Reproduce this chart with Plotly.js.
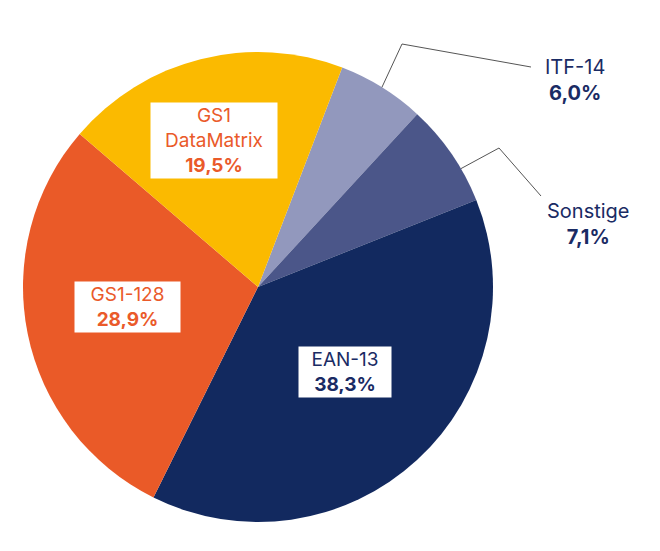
<!DOCTYPE html>
<html>
<head>
<meta charset="utf-8">
<script src="https://cdn.plot.ly/plotly-3.0.1.min.js"></script>
<style>
    html, body { margin: 0; padding: 0; background: #ffffff; }
    #chart { width: 660px; height: 551px; }
</style>
</head>
<body>
<div id="chart"></div>
<script>
// data, clockwise from the ITF-14 slice
const labels = ['ITF-14', 'Sonstige', 'EAN-13', 'GS1-128', 'GS1<br>DataMatrix'];
const values = [6.0, 7.1, 38.3, 28.9, 19.5];
const pctText = ['6,0%', '7,1%', '38,3%', '28,9%', '19,5%'];

const NAVY = '#1a2b64';
const ORANGE = '#ea5a2a';
const sliceColors = ['#9298bd', '#4b5689', '#12295f', '#ea5a28', '#fbba00'];
const textColors = [NAVY, NAVY, NAVY, ORANGE, ORANGE];

const W = 660, H = 551;
const CX = 258, CY = 287, R = 235;   // pie centre / radius in px
const ROTATION = 21;                 // degrees, start of first slice

// label placement per slice (angle offset in deg, radius fraction)
const labelStyle = [
    { outside: true, dA: 0,   leader: [[402, 44], [531, 67]], text: [575, 80] },
    { outside: true, dA: 4.3, leader: [[499, 148], [541, 196]], text: [588, 224] },
    { outside: false, dA: -3, rf: 0.52, width: 86, height: 44 },
    { outside: false, dA: 2.7, rf: 0.56, width: 99, height: 44 },
    { outside: false, dA: -2.7, rf: 0.65, width: 120, height: 69 }
];

const px = x => x / W;
const py = y => 1 - y / H;

const total = values.reduce((a, b) => a + b, 0);
const annotations = [];
const shapes = [];
let acc = 0;
values.forEach((v, i) => {
    const mid = ROTATION + (acc + v / 2) / total * 360 + labelStyle[i].dA;
    acc += v;
    const a = mid * Math.PI / 180;
    const st = labelStyle[i];
    const txt = labels[i] + '<br><b>' + pctText[i] + '</b>';
    if (st.outside) {
        const x0 = CX + R * Math.sin(a), y0 = CY - R * Math.cos(a);
        const pts = [[x0, y0]].concat(st.leader);
        shapes.push({
            type: 'path', xref: 'paper', yref: 'paper',
            path: pts.map((p, k) => (k ? 'L' : 'M') + px(p[0]) + ',' + py(p[1])).join(' '),
            line: { color: '#555555', width: 1 }
        });
        annotations.push({
            text: txt, xref: 'paper', yref: 'paper',
            x: px(st.text[0]), y: py(st.text[1]),
            xanchor: 'center', yanchor: 'middle', showarrow: false, align: 'center',
            font: { size: 20, color: textColors[i] }
        });
    } else {
        annotations.push({
            text: txt, xref: 'paper', yref: 'paper',
            x: px(CX + st.rf * R * Math.sin(a)), y: py(CY - st.rf * R * Math.cos(a)),
            xanchor: 'center', yanchor: 'middle', showarrow: false, align: 'center',
            width: st.width, height: st.height,
            bgcolor: '#ffffff', borderpad: 3,
            font: { size: 19, color: textColors[i] }
        });
    }
});

const trace = {
    type: 'pie',
    labels: labels,
    values: values,
    sort: false,
    direction: 'clockwise',
    rotation: ROTATION,
    textinfo: 'none',
    hoverinfo: 'label+percent',
    marker: { colors: sliceColors, line: { width: 0 } },
    domain: {
        x: [(CX - R) / W, (CX + R) / W],
        y: [1 - (CY + R) / H, 1 - (CY - R) / H]
    }
};

const layout = {
    width: W,
    height: H,
    margin: { t: 0, r: 0, b: 0, l: 0 },
    paper_bgcolor: '#ffffff',
    showlegend: false,
    font: { family: 'Inter, "Open Sans", sans-serif', color: NAVY },
    annotations: annotations,
    shapes: shapes
};

Plotly.newPlot('chart', [trace], layout, { displayModeBar: false, staticPlot: true });
</script>
</body>
</html>
